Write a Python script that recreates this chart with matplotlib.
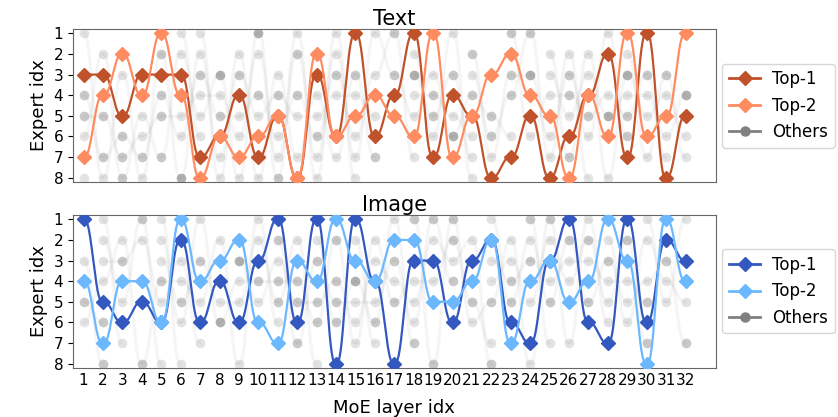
import numpy as np
import matplotlib
matplotlib.use("Agg")
import matplotlib.pyplot as plt
from matplotlib.lines import Line2D

layers = list(range(1, 33))
experts = list(range(1, 9))

text_top1 = [3, 3, 5, 3, 3, 3, 7, 6, 4, 7, 5, 8, 3, 6, 1, 6,
             4, 1, 7, 4, 5, 8, 7, 5, 8, 6, 4, 2, 7, 1, 8, 5]
text_top2 = [7, 4, 2, 4, 1, 4, 8, 6, 7, 6, 5, 8, 2, 6, 5, 4,
             5, 6, 1, 7, 5, 3, 2, 4, 5, 8, 4, 6, 1, 6, 5, 1]
image_top1 = [1, 5, 6, 5, 6, 2, 6, 4, 6, 3, 1, 6, 1, 8, 1, 4,
              8, 3, 3, 6, 3, 2, 6, 7, 3, 1, 6, 7, 1, 6, 2, 3]
image_top2 = [4, 7, 4, 4, 6, 1, 4, 3, 2, 6, 7, 3, 4, 1, 3, 4,
              2, 2, 5, 5, 4, 2, 7, 4, 3, 5, 4, 1, 3, 8, 1, 4]

# "Others" experts per layer, and their shade level (1 light .. 3 dark)
text_others = [[1, 4, 5, 6, 8], [2, 5, 7, 8], [3, 6, 7, 8], [5, 6, 7, 8], [2, 4, 5, 7],
               [1, 2, 5, 6, 8], [1, 2, 3, 4, 5, 6], [3, 4, 5, 7, 8], [2, 3, 5, 6, 8],
               [1, 2, 4, 5, 8], [3, 4, 6, 7, 8], [1, 2, 4, 5, 7], [4, 5, 6, 7, 8],
               [1, 2, 3, 4, 7], [3, 4, 6, 7, 8], [1, 3, 5, 7], [1, 3], [2, 3, 4, 5, 7],
               [3, 4, 5, 6], [1, 3, 5, 6], [2, 3, 4, 6, 7, 8], [5, 6, 7], [1, 3, 4, 6],
               [1, 3, 6], [2, 3, 4, 6, 7], [2, 3, 4, 5, 7], [2, 3, 5, 6, 8], [1, 4, 5, 8],
               [2, 3, 4, 5, 6], [3, 4, 5, 7], [3, 4, 6, 7], [4, 6, 7]]
text_others_lvl = [[1, 2, 2, 1, 1], [1, 2, 2, 1], [1, 2, 2, 2], [1, 1, 2, 1], [2, 2, 2, 2],
                   [1, 1, 1, 1, 3], [1, 1, 2, 1, 1, 1], [3, 1, 2, 1, 1], [1, 2, 1, 1, 1],
                   [3, 1, 2, 1, 1], [1, 2, 1, 1, 2], [1, 2, 2, 1, 1], [1, 1, 2, 1, 1],
                   [1, 1, 2, 1, 1], [2, 1, 1, 1, 1], [1, 1, 1, 2], [2, 2], [1, 3, 1, 1, 1],
                   [1, 2, 2, 1], [1, 2, 1, 3], [2, 1, 2, 1, 1, 1], [2, 2, 1], [2, 2, 2, 1],
                   [2, 3, 1], [1, 1, 1, 1, 1], [1, 2, 2, 1, 2], [1, 1, 2, 1, 1], [1, 1, 3, 1],
                   [1, 3, 1, 2, 2], [2, 1, 1, 1], [2, 1, 1, 1], [3, 1, 1]]

image_others = [[3, 5, 6], [1, 2, 3, 4, 6, 8], [2, 3, 5, 7], [1, 2, 8], [1, 2, 3, 4, 5, 8],
                [3, 4, 5, 6, 8], [1, 3, 5, 7], [2, 5, 6], [3, 4, 5, 8], [1, 2, 4, 5],
                [2, 3, 4, 5, 6], [2, 4, 5, 7], [2, 3, 5, 6, 8], [2, 4, 5, 6], [2, 4, 5, 6, 7],
                [2, 3, 5, 6, 7], [1, 3, 4, 5], [1, 4, 5, 6, 7], [1, 2, 4, 8], [1, 2, 3, 4],
                [2, 5, 6], [1, 3, 4, 5, 7, 8], [2, 3, 4, 5], [1, 2, 3, 5, 8], [1, 2, 4, 5, 7],
                [2, 3, 4, 7], [1, 2, 3, 5], [2, 3, 4, 5, 6], [2, 4, 5, 6], [1, 2, 4, 5, 7],
                [3, 4, 5], [1, 5, 7]]
image_others_lvl = [[1, 2, 1], [1, 1, 1, 1, 2, 2], [1, 2, 1, 1], [2, 1, 2], [1, 1, 1, 2, 1, 1],
                    [1, 1, 2, 1, 1], [1, 2, 1, 1], [1, 1, 3], [3, 1, 1, 1], [1, 1, 2, 1],
                    [2, 1, 2, 2, 1], [1, 2, 2, 2], [1, 2, 2, 2, 1], [2, 2, 2, 2], [1, 3, 1, 1, 1],
                    [1, 1, 1, 2, 1], [1, 2, 1, 2], [2, 1, 1, 1, 2], [2, 1, 1, 2], [2, 2, 1, 2],
                    [1, 2, 1], [1, 1, 1, 2, 1, 2], [1, 1, 2, 2], [2, 1, 2, 1, 1], [2, 1, 1, 2, 1],
                    [2, 1, 1, 1], [1, 2, 1, 2], [1, 2, 1, 1, 1], [2, 1, 1, 1], [1, 1, 1, 2, 2],
                    [2, 1, 1], [1, 1, 2]]

text_colors = ["#C0522B", "#FF8C61"]
image_colors = ["#3358C0", "#6BB8FF"]
gray = "#808080"
lvl_alpha = {1: 0.22, 2: 0.42, 3: 0.62}


def smooth_path(xs, ys, n=40):
    px, py = [], []
    for i in range(len(xs) - 1):
        t = np.linspace(0, 1, n)
        s = t * t * t * (t * (t * 6 - 15) + 10)
        px.append(xs[i] + (xs[i + 1] - xs[i]) * t)
        py.append(ys[i] + (ys[i + 1] - ys[i]) * s)
    return np.concatenate(px), np.concatenate(py)


def draw_panel(ax, top1, top2, others, others_lvl, colors, title):
    # faint connections for other experts
    for i in range(len(layers) - 1):
        a = sorted(others[i])
        b = sorted(others[i + 1], reverse=True)
        for j in range(min(len(a), len(b))):
            px, py = smooth_path([layers[i], layers[i + 1]], [a[j], b[j]])
            ax.plot(px, py, color=gray, alpha=0.08, lw=2.2, zorder=1,
                    solid_capstyle="round")
    for i, lay in enumerate(layers):
        for e, lv in zip(others[i], others_lvl[i]):
            ax.plot(lay, e, "o", color=gray, alpha=lvl_alpha[lv], ms=7,
                    mec="none", zorder=2)
    for k, series in enumerate([top1, top2]):
        px, py = smooth_path(layers, series)
        ax.plot(px, py, color=colors[k], lw=1.6, zorder=3 + k)
        ax.plot(layers, series, "D", color=colors[k], ms=7.5, mec=colors[k],
                zorder=3 + k)
    ax.set_xlim(0.45, 33.55)
    ax.set_ylim(8.2, 0.8)
    ax.set_yticks(experts)
    ax.set_yticklabels([str(e) for e in experts], fontsize=11)
    ax.set_ylabel("Expert idx", fontsize=13)
    ax.set_title(title, fontsize=15, pad=2)
    for sp in ax.spines.values():
        sp.set_color("#666666")
    handles = [
        Line2D([], [], color=colors[0], marker="D", ms=7.5, lw=2),
        Line2D([], [], color=colors[1], marker="D", ms=7.5, lw=2),
        Line2D([], [], color=gray, marker="o", ms=6.5, lw=2),
    ]
    ax.legend(handles, ["Top-1", "Top-2", "Others"], loc="center left",
              bbox_to_anchor=(1.01, 0.5), fontsize=12, handlelength=1.9,
              handletextpad=0.7, borderpad=0.4, labelspacing=0.5,
              borderaxespad=0.0, edgecolor="#cccccc")


fig = plt.figure(figsize=(8.38, 4.17), dpi=100)
ax1 = fig.add_axes([0.087, 0.564, 0.767, 0.366])
ax2 = fig.add_axes([0.087, 0.118, 0.767, 0.366])

draw_panel(ax1, text_top1, text_top2, text_others, text_others_lvl, text_colors, "Text")
draw_panel(ax2, image_top1, image_top2, image_others, image_others_lvl, image_colors, "Image")

ax1.set_xticks(layers)
ax1.tick_params(axis="x", length=0, labelbottom=False)
ax2.set_xticks(layers)
ax2.set_xticklabels([str(l) for l in layers], fontsize=11)
ax2.tick_params(axis="x", length=0)
ax2.set_xlabel("MoE layer idx", fontsize=13, labelpad=8)

fig.savefig("out.png", dpi=100)
